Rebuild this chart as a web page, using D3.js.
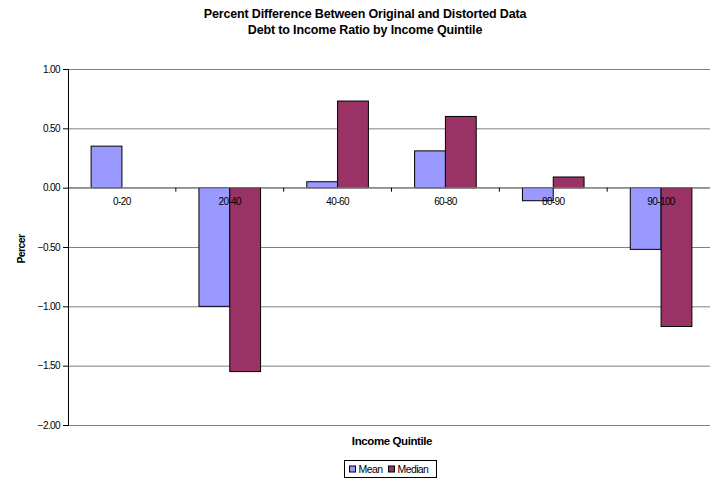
<!DOCTYPE html>
<html>
<head>
<meta charset="utf-8">
<script src="https://cdn.jsdelivr.net/npm/d3@7"></script>
<style>
  body { margin: 0; background: #fff; }
  svg text { font-family: "Liberation Sans", Arial, sans-serif; }
</style>
</head>
<body>
<div id="chart"></div>
<script>
// values
const categories = ["0-20", "20-40", "40-60", "60-80", "80-90", "90-100"];
const seriesNames = ["Mean", "Median"];
const meanValues = [0.35, -1.00, 0.05, 0.31, -0.11, -0.52];
const medianValues = [0, -1.55, 0.73, 0.60, 0.09, -1.17];
const yTicks = [1.0, 0.5, 0.0, -0.5, -1.0, -1.5, -2.0];
const colors = ["#9999ff", "#993366"];

const width = 710, height = 481;
const margin = {top: 69, left: 68, bottom: 55};
const plotW = 647;
const plotH = height - margin.top - margin.bottom - 1;

let svg = d3.select("#chart").append("svg")
    .attr("width", width)
    .attr("height", height);

let x = d3.scaleBand()
    .domain(categories)
    .range([margin.left, margin.left + plotW]);

let x1 = d3.scaleBand()
    .domain(seriesNames)
    .range([0, x.bandwidth()])
    .paddingInner(0)
    .paddingOuter(0.75);

let y = d3.scaleLinear()
    .domain([-2, 1])
    .range([margin.top + plotH, margin.top]);

// gridlines
svg.append("g")
    .attr("class", "grid")
    .attr("transform", "translate(" + margin.left + ",0)")
    .call(d3.axisLeft(y).tickValues(yTicks).tickSize(-plotW).tickFormat(""))
    .call(g => g.select(".domain").remove())
    .selectAll("line")
    .attr("stroke", "#7f7f7f");

// bars
let rows = categories.map((c, i) => ({cat: c, vals: [meanValues[i], medianValues[i]]}));
svg.append("g").selectAll("g")
    .data(rows)
    .join("g")
    .attr("transform", d => "translate(" + x(d.cat) + ",0)")
    .selectAll("rect")
    .data(d => d.vals.map((v, j) => ({name: seriesNames[j], v: v, j: j})).filter(d => d.v !== 0))
    .join("rect")
    .attr("x", d => x1(d.name))
    .attr("width", x1.bandwidth())
    .attr("y", d => y(Math.max(0, d.v)))
    .attr("height", d => Math.abs(y(d.v) - y(0)))
    .attr("fill", d => colors[d.j])
    .attr("stroke", "#000")
    .attr("stroke-width", 1);

// zero line with category ticks
let zero = svg.append("g")
    .attr("transform", "translate(0," + y(0) + ")");
zero.append("line")
    .attr("x1", margin.left).attr("x2", margin.left + plotW)
    .attr("stroke", "#7f7f7f");
zero.selectAll(".ctick")
    .data(categories.slice(1))
    .join("line")
    .attr("x1", d => x(d)).attr("x2", d => x(d))
    .attr("y1", 0).attr("y2", 4)
    .attr("stroke", "#000");
zero.selectAll(".clabel")
    .data(categories)
    .join("text")
    .attr("x", d => x(d) + x.bandwidth() / 2)
    .attr("y", 17)
    .attr("text-anchor", "middle")
    .attr("font-size", 10)
    .attr("letter-spacing", -0.6)
    .text(d => d);

// y axis
let yAxis = svg.append("g")
    .attr("transform", "translate(" + margin.left + ",0)")
    .call(d3.axisLeft(y).tickValues(yTicks).tickSize(5).tickPadding(3).tickFormat(d3.format(".2f")));
yAxis.select(".domain").attr("stroke", "#000");
yAxis.selectAll("text")
    .attr("font-size", 10)
    .attr("letter-spacing", -0.6)
    .attr("fill", "#000");

// titles
let title = svg.append("text")
    .attr("text-anchor", "middle")
    .attr("font-size", 12.5)
    .attr("font-weight", "bold")
    .attr("letter-spacing", -0.15);
title.append("tspan").attr("x", 365).attr("y", 18).text("Percent Difference Between Original and Distorted Data");
title.append("tspan").attr("x", 365).attr("y", 34).text("Debt to Income Ratio by Income Quintile");

svg.append("text")
    .attr("x", 392)
    .attr("y", 445)
    .attr("text-anchor", "middle")
    .attr("font-size", 11.5)
    .attr("font-weight", "bold")
    .attr("letter-spacing", -0.4)
    .text("Income Quintile");

svg.append("text")
    .attr("transform", "translate(25," + (y(-0.5) + 2) + ") rotate(-90)")
    .attr("text-anchor", "middle")
    .attr("font-size", 10.5)
    .attr("font-weight", "bold")
    .attr("letter-spacing", -0.6)
    .text("Percer");

// legend
let legend = svg.append("g").attr("transform", "translate(344.5,460.5)");
legend.append("rect")
    .attr("width", 92).attr("height", 17)
    .attr("fill", "#fff").attr("stroke", "#000");
let items = legend.selectAll(".item")
    .data(seriesNames)
    .join("g")
    .attr("transform", (d, i) => "translate(" + (5 + i * 39) + ",8.5)");
items.append("rect")
    .attr("y", -3).attr("width", 6).attr("height", 6)
    .attr("fill", (d, i) => colors[i]).attr("stroke", "#000");
items.append("text")
    .attr("x", 9).attr("y", 3.8)
    .attr("font-size", 10.5)
    .attr("letter-spacing", -0.6)
    .text(d => d);
</script>
</body>
</html>
